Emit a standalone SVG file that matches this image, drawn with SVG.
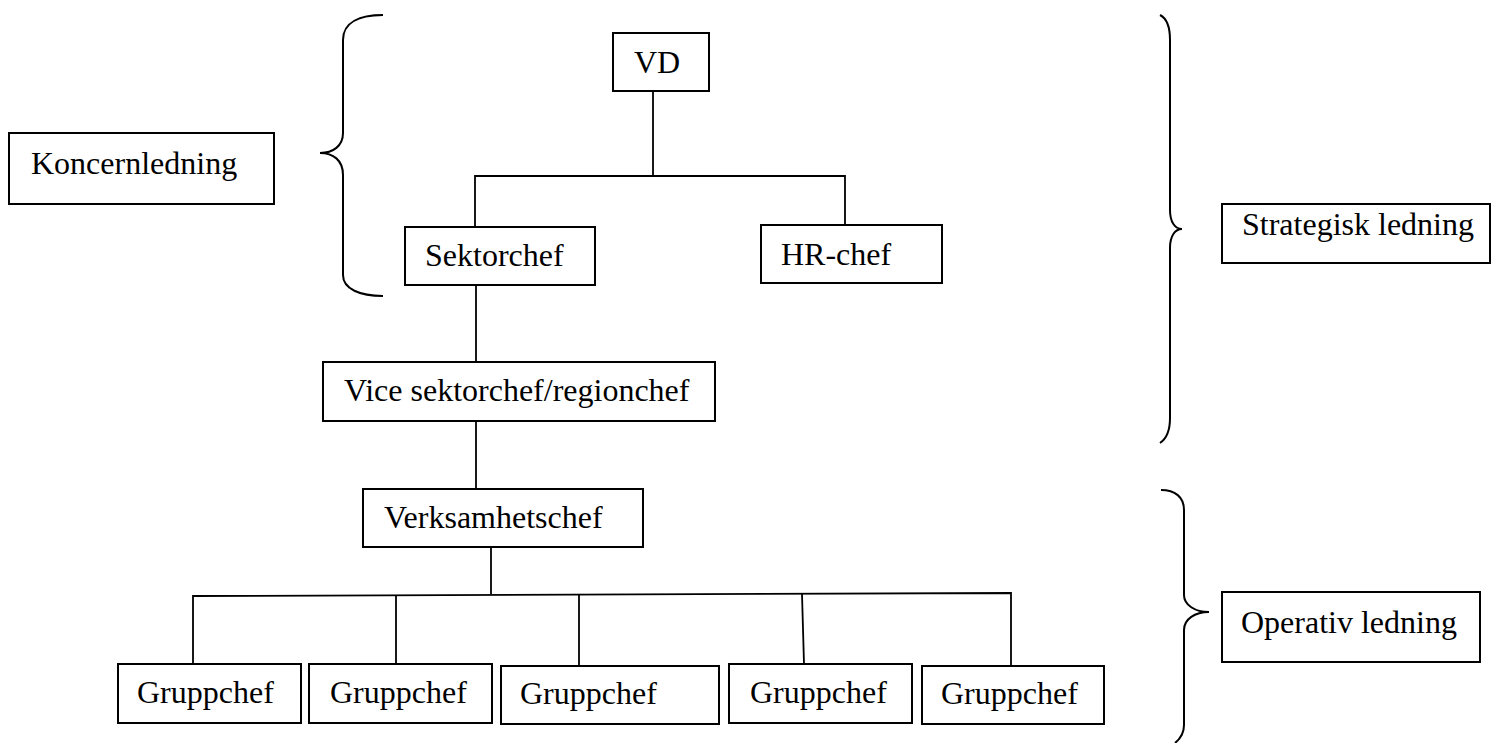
<svg xmlns="http://www.w3.org/2000/svg" width="1492" height="743" viewBox="0 0 1492 743">
<style>
.box{fill:#fff;stroke:#000;stroke-width:2}
.t{font-family:"Liberation Serif","Times New Roman",serif;font-size:32px;fill:#000}
.ln{stroke:#000;stroke-width:1.8;fill:none}
.br{stroke:#000;stroke-width:2;fill:none}
</style>
<rect width="1492" height="743" fill="#fff"/>
<g id="connectors">
<line class="ln" x1="653" y1="91" x2="653" y2="176"/>
<polyline class="ln" points="475,227 475,176 845,176 845,225"/>
<line class="ln" x1="476" y1="285" x2="476" y2="362"/>
<line class="ln" x1="476" y1="421" x2="476" y2="489"/>
<line class="ln" x1="491" y1="547" x2="491" y2="594"/>
<polyline class="ln" points="193,664 193,596 1011,593 1011,666"/>
<line class="ln" x1="396" y1="595" x2="396" y2="664"/>
<line class="ln" x1="579" y1="595" x2="579" y2="666"/>
<line class="ln" x1="802" y1="594" x2="804" y2="664"/>
</g>
<g id="braces">
<path class="br" d="M383,15 C360,15 343,22 343,40 L343,133 C343,146 333,153 320,153 C333,153 343,160 343,175 L343,275 C343,289 360,296 383,296"/>
<path class="br" d="M1160,15 C1166,18 1170,25 1170,40 L1170,210 C1170,222 1175,229 1182,229 C1175,229 1170,236 1170,248 L1170,418 C1170,432 1166,439 1160,443"/>
<path class="br" d="M1161,490 C1175,490 1184,497 1184,510 L1184,595 C1184,605 1195,612 1209,612 C1195,612 1184,619 1184,630 L1184,725 C1184,734 1180,739 1175,743"/>
</g>
<g id="vd"><rect class="box" x="613" y="33" width="96" height="58"/><text class="t" x="634" y="73">VD</text></g>
<g id="koncernledning"><rect class="box" x="9" y="133" width="265" height="71"/><text class="t" x="31" y="174">Koncernledning</text></g>
<g id="sektorchef"><rect class="box" x="405" y="227" width="190" height="58"/><text class="t" x="425" y="266">Sektorchef</text></g>
<g id="hrchef"><rect class="box" x="761" y="225" width="181" height="58"/><text class="t" x="781" y="265">HR-chef</text></g>
<g id="strategisk"><rect class="box" x="1222" y="204" width="268" height="59"/><text class="t" x="1242" y="235">Strategisk ledning</text></g>
<g id="vice"><rect class="box" x="323" y="362" width="392" height="59"/><text class="t" x="344" y="401">Vice sektorchef/regionchef</text></g>
<g id="verksamhetschef"><rect class="box" x="363" y="489" width="280" height="58"/><text class="t" x="384" y="528">Verksamhetschef</text></g>
<g id="operativ"><rect class="box" x="1222" y="592" width="258" height="70"/><text class="t" x="1241" y="633">Operativ ledning</text></g>
<g id="g1"><rect class="box" x="118" y="664" width="183" height="59"/><text class="t" x="137" y="703">Gruppchef</text></g>
<g id="g2"><rect class="box" x="309" y="664" width="183" height="59"/><text class="t" x="330" y="703">Gruppchef</text></g>
<g id="g3"><rect class="box" x="501" y="666" width="218" height="58"/><text class="t" x="520" y="704">Gruppchef</text></g>
<g id="g4"><rect class="box" x="729" y="664" width="183" height="59"/><text class="t" x="750" y="703">Gruppchef</text></g>
<g id="g5"><rect class="box" x="922" y="666" width="182" height="58"/><text class="t" x="941" y="704">Gruppchef</text></g>
</svg>
